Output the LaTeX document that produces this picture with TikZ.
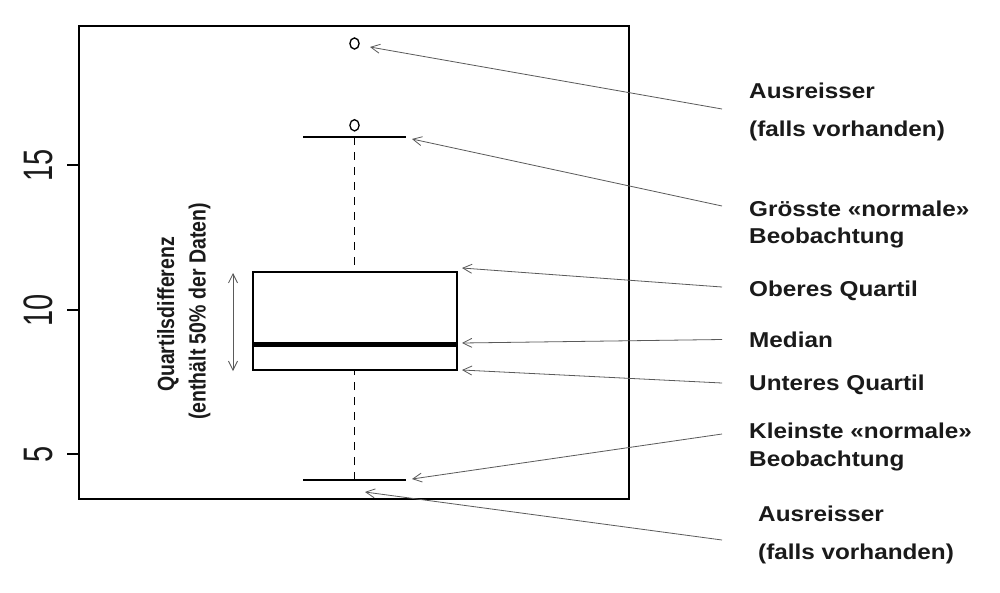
\documentclass[tikz,border=0pt]{standalone}
\usepackage{fontspec}
\setmainfont{Liberation Sans}
\usetikzlibrary{arrows.meta}
\definecolor{ink}{HTML}{1A1A1A}
\definecolor{pointergray}{HTML}{5A5A5A}
\newcommand{\hstretch}[1]{\scalebox{1.13}[1]{#1}}
\newcommand{\rstretch}[1]{\scalebox{1}[1.2]{#1}}
\newcommand{\astretch}[1]{\scalebox{1}[1.42]{#1}}
\begin{document}
\begin{tikzpicture}[x=1pt,y=-1pt,
  lbl/.style={anchor=base west, inner sep=0pt, font=\fontsize{21.5}{24}\selectfont\bfseries, text=ink},
  rotlbl/.style={anchor=base, inner sep=0pt, rotate=90, font=\fontsize{19.5}{22}\selectfont\bfseries, text=ink},
  axlbl/.style={inner sep=0pt, rotate=90, font=\fontsize{29}{30}\selectfont, text=ink},
  pointer/.style={draw=pointergray, line width=0.8pt, -{Straight Barb[length=9pt,width=9pt]}},
  dpointer/.style={draw=pointergray, line width=0.8pt, {Straight Barb[length=9pt,width=9pt]}-{Straight Barb[length=9pt,width=9pt]}},
  plotline/.style={line width=1.5pt, draw=black},
  whisker/.style={line width=1.4pt, draw=black, dash pattern=on 8pt off 7pt},
  outlierstyle/.style={draw=black, line width=1.3pt}
]
\useasboundingbox (0,0) rectangle (1000,592);
\fill[white] (0,0) rectangle (1000,592);

% frame
\coordinate (fTL) at (79,26);
\coordinate (fBR) at (629,499);
\draw[plotline] (fTL) rectangle (fBR);

% axis ticks and labels
\foreach \yy/\lab/\nm in {165/15/t15, 310/10/t10, 454/5/t5}{
  \coordinate (\nm a) at (67,\yy);
  \coordinate (\nm b) at (79,\yy);
  \draw[plotline] (\nm a) -- (\nm b);
  \node[axlbl] (\nm l) at (38.5,\yy) {\astretch{\lab}};
}

% box
\coordinate (boxTL) at (253,272);
\coordinate (boxBR) at (457,370);
\draw[plotline] (boxTL) rectangle (boxBR);
\coordinate (medL) at (253,344);
\coordinate (medR) at (457,344);
\draw[line width=5pt, draw=black] (medL) -- (medR);

% whiskers
\coordinate (capUL) at (303,137);
\coordinate (capUR) at (406,137);
\coordinate (capUM) at (354.5,137);
\coordinate (boxTM) at (354.5,272);
\coordinate (capLL) at (303,480);
\coordinate (capLR) at (406,480);
\coordinate (capLM) at (354.5,480);
\coordinate (boxBM) at (354.5,370);
\draw[whisker] (capUM) -- (boxTM);
\draw[whisker] (capLM) -- (boxBM);
\draw[line width=2pt] (capUL) -- (capUR);
\draw[line width=2pt] (capLL) -- (capLR);

% outliers
\coordinate (out1) at (354.5,43.5);
\coordinate (out2) at (354.5,125.3);
\draw[outlierstyle] (out1) ellipse [x radius=4.6, y radius=5.6];
\draw[outlierstyle] (out2) ellipse [x radius=4.6, y radius=5.6];

% IQR arrow and labels
\coordinate (iqrT) at (233,273);
\coordinate (iqrB) at (233,371);
\draw[dpointer] (iqrB) -- (iqrT);
\node[rotlbl] (iqr1) at (174,314.5) {\rstretch{Quartilsdifferenz}};
\node[rotlbl] (iqr2) at (205.5,311.5) {\rstretch{(enthält 50\% der Daten)}};

% right labels
\node[lbl] (aus1a) at (749,98) {\hstretch{Ausreisser}};
\node[lbl] (aus1b) at (749,136) {\hstretch{(falls vorhanden)}};
\node[lbl] (grossa) at (749,216.7) {\hstretch{Grösste «normale»}};
\node[lbl] (grossb) at (749,243.3) {\hstretch{Beobachtung}};
\node[lbl] (oq) at (749,296) {\hstretch{Oberes Quartil}};
\node[lbl] (med) at (749,347) {\hstretch{Median}};
\node[lbl] (uq) at (749,390.7) {\hstretch{Unteres Quartil}};
\node[lbl] (kleina) at (749,438) {\hstretch{Kleinste «normale»}};
\node[lbl] (kleinb) at (749,466.7) {\hstretch{Beobachtung}};
\node[lbl] (aus2a) at (758,521.7) {\hstretch{Ausreisser}};
\node[lbl] (aus2b) at (758,559) {\hstretch{(falls vorhanden)}};

% pointer start points
\coordinate (s1) at (722,109);
\coordinate (s2) at (722,206);
\coordinate (s3) at (722,287);
\coordinate (s4) at (722,339.5);
\coordinate (s5) at (722,383);
\coordinate (s6) at (722,434);
\coordinate (s7) at (722,540);
% pointer targets
\coordinate (e1) at (370,47);
\coordinate (e2) at (412,139);
\coordinate (e3) at (462,268);
\coordinate (e4) at (462,343);
\coordinate (e5) at (462,370);
\coordinate (e6) at (412,479);
\coordinate (e7) at (365,492);

\foreach \i in {1,...,7}{
  \draw[pointer] (s\i) -- (e\i);
}
\end{tikzpicture}
\end{document}
